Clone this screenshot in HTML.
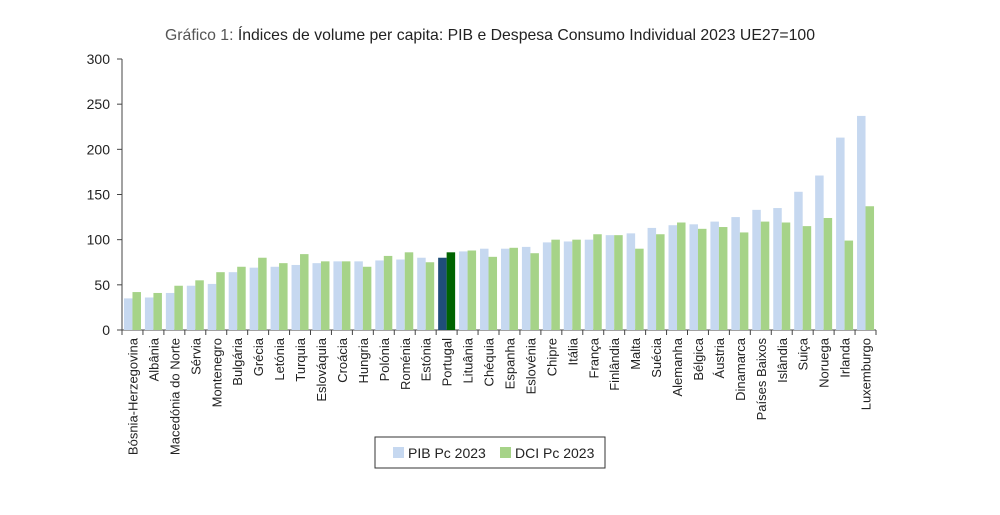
<!DOCTYPE html>
<html><head><meta charset="utf-8"><style>
body{margin:0;background:#fff;width:1000px;height:510px;overflow:hidden;font-family:"Liberation Sans",sans-serif}
</style></head><body>
<svg width="1000" height="510" id="c">
<text x="165" y="40" textLength="650" lengthAdjust="spacingAndGlyphs" font-size="16" fill="#222"><tspan fill="#555">Gráfico 1:</tspan> Índices de volume per capita: PIB e Despesa Consumo Individual 2023 UE27=100</text>
<g id="plot"></g>
<g>
<rect x="375" y="437" width="230" height="31" fill="#fff" stroke="#333" stroke-width="1"/>
<rect x="393" y="447" width="11" height="11" fill="#c6d8f0"/>
<text x="408" y="458" font-size="14" fill="#222">PIB Pc 2023</text>
<rect x="500" y="447" width="11" height="11" fill="#a6d388"/>
<text x="515" y="458" font-size="14" fill="#222">DCI Pc 2023</text>
</g>
</svg>
<script>
const categories=["Bósnia-Herzegovina","Albânia","Macedónia do Norte","Sérvia","Montenegro","Bulgária","Grécia","Letónia","Turquia","Eslováquia","Croácia","Hungria","Polónia","Roménia","Estónia","Portugal","Lituânia","Chéquia","Espanha","Eslovénia","Chipre","Itália","França","Finlândia","Malta","Suécia","Alemanha","Bélgica","Áustria","Dinamarca","Países Baixos","Islândia","Suiça","Noruega","Irlanda","Luxemburgo"];
const pib=[35,36,41,49,51,64,69,70,72,74,76,76,77,78,80,80,87,90,90,92,97,98,100,105,107,113,116,117,120,125,133,135,153,171,213,237];
const dci=[42,41,49,55,64,70,80,74,84,76,76,70,82,86,75,86,88,81,91,85,100,100,106,105,90,106,119,112,114,108,120,119,115,124,99,137];
const yTicks=[0,50,100,150,200,250,300];
const ns="http://www.w3.org/2000/svg";
const g=document.getElementById('plot');
const x0=122,x1=876,yb=330,yt=59,ymax=300;
const step=(x1-x0)/categories.length;
const y=v=>yb-(v/ymax)*(yb-yt);
function mk(t,a){const e=document.createElementNS(ns,t);for(const k in a)e.setAttribute(k,a[k]);g.appendChild(e);return e;}
const ax=mk('line',{x1:x0,y1:yt,x2:x0,y2:yb,stroke:'#444'});


yTicks.forEach(v=>{
 const t=mk('line',{x1:x0-5,x2:x0,y1:y(v),y2:y(v),stroke:'#444'});
 
 
 const l=mk('text',{x:x0-12,y:y(v)+5,'text-anchor':'end','font-size':14,fill:'#222'});
 l.textContent=v;
 
 
});
const xa=mk('line',{x1:x0,y1:yb,x2:x1,y2:yb,stroke:'#444'});


categories.forEach((c,i)=>{
 const cx=x0+step*(i+0.5);
 const pt=c==="Portugal";
 const b1=mk('rect',{x:cx-8.5,y:y(pib[i]),width:8.5,height:yb-y(pib[i]),fill:pt?'#1f4e79':'#c6d8f0'});
 
 
 const b2=mk('rect',{x:cx,y:y(dci[i]),width:8.5,height:yb-y(dci[i]),fill:pt?'#006400':'#a6d388'});
 
 
 const tk=mk('line',{x1:x0+step*(i+1),x2:x0+step*(i+1),y1:yb,y2:yb+5,stroke:'#444'});
 
 
 const l=mk('text',{transform:`translate(${cx+5},${yb+8}) rotate(-90)`,'text-anchor':'end','font-size':13,fill:'#222'});
 l.textContent=c;
 
 
});
const t0=mk('line',{x1:x0,x2:x0,y1:yb,y2:yb+5,stroke:'#444'});


</script>
</body></html>
